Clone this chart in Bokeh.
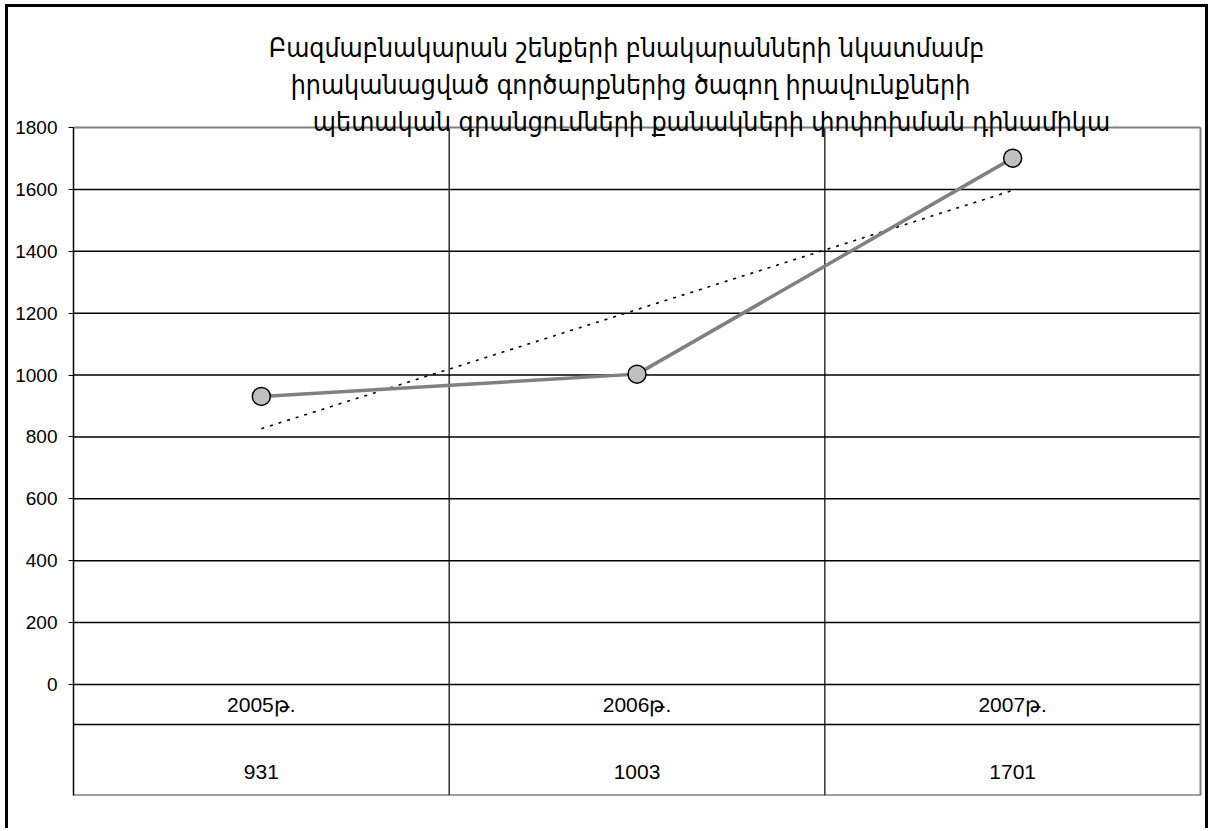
import numpy as np
from bokeh.plotting import figure
from bokeh.models import FixedTicker, Range1d, ColumnDataSource
from bokeh.core.properties import value
from bokeh.embed import file_html
from bokeh.resources import INLINE

# ---- data ----
categories = ["2005թ.", "2006թ.", "2007թ."]
values = [931, 1003, 1701]
y_ticks = [0, 200, 400, 600, 800, 1000, 1200, 1400, 1600, 1800]
title_lines = [
    "Բազմաբնակարան շենքերի բնակարանների նկատմամբ",
    "իրականացված գործարքներից ծագող իրավունքների",
    "պետական գրանցումների քանակների փոփոխման դինամիկա",
]

# ---- layout (pixels in the picture) ----
CANVAS_X, CANVAS_Y = 8, 7
TOP_PX = 10                      # top of drawing area (title lives inside)
FRAME_TOP, ZERO_PX, ROW_PX, FRAME_BOTTOM = 127, 684, 724, 795
FRAME_LEFT, FRAME_RIGHT = 73, 1200
RIGHT_PX = 1202
W, H = 1203, 824
N = len(categories)
ppu = (ZERO_PX - FRAME_TOP) / 1800.0
ppx = (FRAME_RIGHT - FRAME_LEFT) / N
Y_TOP = y_ticks[-1]
y_min = -(FRAME_BOTTOM - ZERO_PX) / ppu
y_max = Y_TOP + (FRAME_TOP - TOP_PX) / ppu
x_max = N + (RIGHT_PX - FRAME_RIGHT) / ppx

def px2y(py):
    return (ZERO_PX - py) / ppu

def px2x(px):
    return (px - FRAME_LEFT) / ppx

xs = [i + 0.5 for i in range(N)]

p = figure(width=W, height=H, output_backend="svg", toolbar_location=None,
           x_range=Range1d(0, x_max), y_range=Range1d(y_min, y_max),
           min_border_left=FRAME_LEFT - CANVAS_X, min_border_top=TOP_PX - CANVAS_Y,
           min_border_bottom=CANVAS_Y + H - FRAME_BOTTOM,
           min_border_right=CANVAS_X + W - RIGHT_PX,
           styles={"border-left": "3px solid black", "border-top": "3px solid black",
                   "border-right": "3px solid black", "margin-left": "5px",
                   "margin-top": "4px"})

p.outline_line_color = None
p.background_fill_color = "white"
p.border_fill_color = "white"
p.title.visible = False

p.xaxis.visible = False
yax = p.yaxis[0]
yax.bounds = (y_min, Y_TOP)
yax.ticker = FixedTicker(ticks=y_ticks)
yax.minor_tick_line_color = None
yax.major_tick_in = 0
yax.major_tick_out = 5
yax.major_tick_line_color = "black"
yax.axis_line_color = "black"
yax.axis_line_width = 1.5
yax.major_label_text_font = "Liberation Sans"
yax.major_label_text_font_size = "19px"
yax.major_label_text_color = "black"
yax.major_label_standoff = 11

p.xgrid.visible = False
p.ygrid.visible = False

# horizontal grid lines (0..1600) and table row separator
h_levels = y_ticks[:-1] + [px2y(ROW_PX)]
p.segment(x0=[0] * len(h_levels), x1=[N] * len(h_levels), y0=h_levels, y1=h_levels,
          line_color="black", line_width=1.5)
# vertical category separators
seps = list(range(1, N))
p.segment(x0=seps, x1=seps, y0=[y_min] * len(seps), y1=[Y_TOP] * len(seps),
          line_color="black", line_width=1.2)
# plot-area border (grey top/right, dark bottom)
p.segment(x0=[0, N], x1=[N, N], y0=[Y_TOP, y_min], y1=[Y_TOP, Y_TOP],
          line_color="#808080", line_width=2)
p.segment(x0=[0], x1=[N], y0=[y_min], y1=[y_min], line_color="#404040", line_width=2)

# trend line (linear regression)
cx = np.arange(1, len(values) + 1)
k, b = np.polyfit(cx, values, 1)
trend = k * cx + b
p.line(xs, trend, line_color="black", line_width=1.6, line_dash="3 6")

src = ColumnDataSource(dict(x=xs, y=values))
p.line("x", "y", source=src, line_color="#808080", line_width=3.5)
p.scatter("x", "y", source=src, size=18, fill_color="#c0c0c0", line_color="black", line_width=1.5)

# data table texts
p.text(x=xs, y=[px2y(704)] * N, text=categories, text_align="center", text_baseline="middle",
       text_font=value("Liberation Sans"), text_font_size="21px", text_color="black")
p.text(x=xs, y=[px2y(771)] * N, text=[str(v) for v in values], text_align="center",
       text_baseline="middle", text_font=value("Liberation Sans"), text_font_size="21px",
       text_color="black")

# title lines
title_cx = [626, 630, 711]
title_base = [47, 84, 121]
p.text(x=[px2x(c) for c in title_cx], y=[px2y(b_) for b_ in title_base], text=title_lines,
       text_align="center", text_baseline="alphabetic",
       text_font=value("DejaVu Sans Condensed"), text_font_size="26.5px", text_color="black")

open("out.html", "w").write(file_html(p, INLINE))
